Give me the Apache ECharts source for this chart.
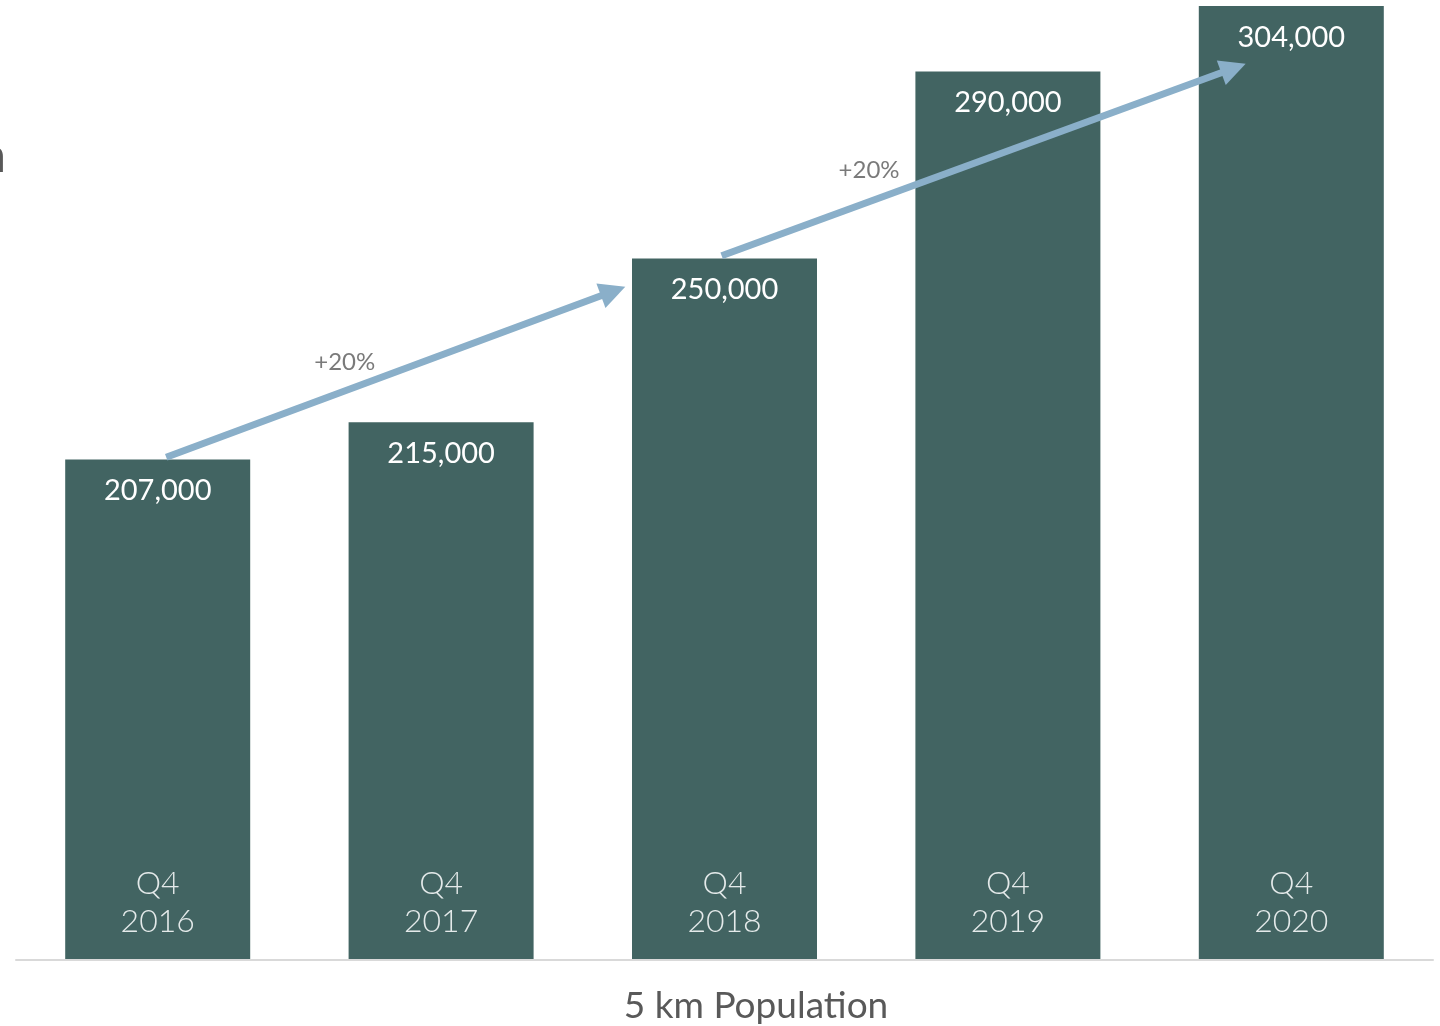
<!DOCTYPE html>
<html>
<head>
<meta charset="utf-8">
<title>5 km Population</title>
<script src="https://cdn.jsdelivr.net/npm/echarts@6/dist/echarts.min.js"></script>
<style>
  html, body { margin: 0; padding: 0; background: #fff; }
  #chart { width: 1440px; height: 1026px; }
</style>
</head>
<body>
<div id="chart"></div>
<script>
// data
var years = ['Q4\n2016', 'Q4\n2017', 'Q4\n2018', 'Q4\n2019', 'Q4\n2020'];
var population = [207000, 215000, 250000, 290000, 304000];

// growth arrows, x in category index units (0 = first bar centre)
var arrowFrom = [[0.03, 207500], [1.99, 250600]];
var arrowTo = [[1.607, 243000], [3.796, 290700]];
var growthPos = [[0.66, 227900], [2.51, 268900]];
var growthText = ['+20%', '+20%'];

var myChart = echarts.init(document.getElementById('chart'));

var arrowData = [];
for (var i = 0; i < arrowFrom.length; i++) {
    arrowData.push({ coords: [arrowFrom[i], arrowTo[i]] });
}
var growthData = [];
for (var j = 0; j < growthPos.length; j++) {
    growthData.push({ value: growthPos[j], name: growthText[j] });
}

var option = {
    backgroundColor: '#ffffff',
    animation: false,
    textStyle: { fontFamily: 'Lato' },
    grid: { left: 16, right: 7, top: 6, bottom: 66 },
    xAxis: [
        {
            type: 'category',
            data: years,
            axisLine: { lineStyle: { color: '#d9d9d9', width: 2 } },
            axisTick: { show: false },
            axisLabel: {
                inside: true,
                margin: 19,
                fontFamily: 'Lato',
                fontSize: 32,
                fontWeight: 300,
                lineHeight: 38,
                color: '#e4eaea'
            },
            z: 10
        },
        {
            type: 'value',
            min: -0.5,
            max: 4.5,
            show: false
        }
    ],
    yAxis: {
        type: 'value',
        min: 100000,
        max: 304000,
        show: false,
        splitLine: { show: false }
    },
    series: [
        {
            name: 'Population',
            type: 'bar',
            data: population,
            barWidth: 185,
            itemStyle: { color: '#426462' },
            label: {
                show: true,
                position: 'insideTop',
                distance: 17,
                fontFamily: 'Lato',
                fontSize: 29,
                color: '#ffffff',
                formatter: function (p) {
                    return p.value.toLocaleString('en-US');
                }
            }
        },
        {
            name: 'growth',
            type: 'lines',
            coordinateSystem: 'cartesian2d',
            xAxisIndex: 1,
            yAxisIndex: 0,
            symbol: ['none', 'triangle'],
            symbolSize: [24, 26],
            lineStyle: { color: '#8aafc9', width: 7, opacity: 1, curveness: 0 },
            data: arrowData,
            z: 5
        },
        {
            name: 'growthLabel',
            type: 'scatter',
            xAxisIndex: 1,
            yAxisIndex: 0,
            symbolSize: 0,
            data: growthData,
            label: {
                show: true,
                position: 'inside',
                fontFamily: 'Lato',
                fontSize: 24,
                color: '#595959',
                formatter: function (p) { return p.name; }
            },
            z: 6
        }
    ],
    graphic: [
        {
            type: 'text',
            x: 756,
            y: 1006,
            style: {
                text: '5 km Population',
                fontFamily: 'Lato', fontSize: 37, fill: '#595959',
                textAlign: 'center', textVerticalAlign: 'middle'
            }
        },
        {
            // clipped side heading at the left edge
            type: 'text',
            right: 1434,
            top: 133,
            style: { text: 'Population', fontFamily: 'Lato', fontSize: 48, fill: '#595959' }
        }
    ]
};

myChart.setOption(option);
</script>
</body>
</html>
